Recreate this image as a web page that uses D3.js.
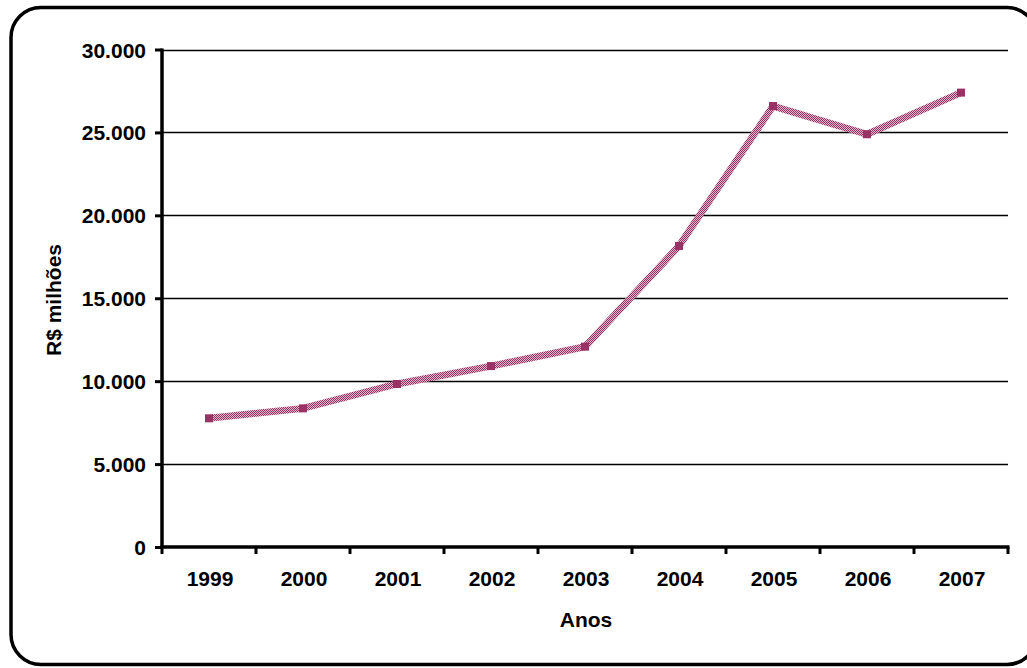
<!DOCTYPE html>
<html>
<head>
<meta charset="utf-8">
<script src="https://cdn.jsdelivr.net/npm/d3@7"></script>
<style>
  html, body { margin: 0; padding: 0; background: #fff; }
  svg { display: block; font-family: "Liberation Sans", Arial, Helvetica, sans-serif; }
</style>
</head>
<body>
<svg id="chart" width="1027" height="668"></svg>
<script>
// Annual values, R$ millions
const anos = ["1999", "2000", "2001", "2002", "2003", "2004", "2005", "2006", "2007"];
const valores = [7760, 8360, 9830, 10910, 12080, 18150, 26590, 24890, 27400];
const yTicks = [0, 5000, 10000, 15000, 20000, 25000, 30000];

const svg = d3.select("#chart");
const plot = { left: 162, right: 1008, top: 49.5, bottom: 547 };
const FS = 21;

// Rounded outer frame (right edge runs past the page)
svg.append("rect")
  .attr("x", 11).attr("y", 7.5)
  .attr("width", 1026).attr("height", 657)
  .attr("rx", 30).attr("ry", 30)
  .attr("fill", "#fff")
  .attr("stroke", "#000").attr("stroke-width", 3.5);

const x = d3.scaleBand().domain(anos).range([plot.left, plot.right]).padding(0);
const y = d3.scaleLinear().domain([0, 30000]).range([plot.bottom, plot.top]);

const fmt = v => v === 0 ? "0" : d3.format(",")(v).replace(/,/g, ".");

// Horizontal gridlines
svg.append("g")
  .selectAll("line")
  .data(yTicks.filter(t => t > 0))
  .join("line")
  .attr("x1", plot.left).attr("x2", plot.right)
  .attr("y1", d => Math.round(y(d)) + 0.5).attr("y2", d => Math.round(y(d)) + 0.5)
  .attr("stroke", "#000").attr("stroke-width", 1.3);

// Y axis
const yAxis = d3.axisLeft(y).tickValues(yTicks).tickFormat(fmt).tickSize(7).tickPadding(9);
const gy = svg.append("g").attr("transform", `translate(${plot.left},0)`).call(yAxis);
gy.select(".domain").remove();
gy.selectAll(".tick line").attr("stroke", "#000").attr("stroke-width", 3);
gy.selectAll(".tick text")
  .attr("font-size", FS).attr("font-weight", "bold").attr("fill", "#000")
  .attr("dy", "0.36em");
svg.append("line")
  .attr("x1", plot.left).attr("x2", plot.left)
  .attr("y1", plot.top - 1).attr("y2", plot.bottom + 1)
  .attr("stroke", "#000").attr("stroke-width", 3.5);

// X axis with ticks on category boundaries
const boundaries = anos.map(a => x(a)).concat([plot.right]);
svg.append("g")
  .selectAll("line")
  .data(boundaries)
  .join("line")
  .attr("x1", d => d).attr("x2", d => d)
  .attr("y1", plot.bottom).attr("y2", plot.bottom + 7)
  .attr("stroke", "#000").attr("stroke-width", 3);
svg.append("line")
  .attr("x1", plot.left - 1.5).attr("x2", plot.right + 1.5)
  .attr("y1", plot.bottom).attr("y2", plot.bottom)
  .attr("stroke", "#000").attr("stroke-width", 3.5);
svg.append("g")
  .selectAll("text")
  .data(anos)
  .join("text")
  .attr("x", d => x(d) + x.bandwidth() / 2 + 1)
  .attr("y", 586)
  .attr("text-anchor", "middle")
  .attr("font-size", FS).attr("font-weight", "bold")
  .text(d => d);

// Axis titles
svg.append("text")
  .attr("x", 586).attr("y", 627)
  .attr("text-anchor", "middle")
  .attr("font-size", FS).attr("font-weight", "bold")
  .text("Anos");
svg.append("text")
  .attr("transform", "translate(61,300) rotate(-90)")
  .attr("text-anchor", "middle")
  .attr("font-size", FS).attr("font-weight", "bold")
  .text("R$ milhões");

// Dithered line fill
const defs = svg.append("defs");
const pat = defs.append("pattern")
  .attr("id", "dither")
  .attr("patternUnits", "userSpaceOnUse")
  .attr("width", 2).attr("height", 2);
pat.append("rect").attr("width", 2).attr("height", 2).attr("fill", "#dfb3c8");
pat.append("rect").attr("width", 1).attr("height", 1).attr("fill", "#993366");
pat.append("rect").attr("x", 1).attr("y", 1).attr("width", 1).attr("height", 1).attr("fill", "#993366");

const pts = anos.map((a, i) => [x(a) + x.bandwidth() / 2, y(valores[i])]);
svg.append("path")
  .datum(pts)
  .attr("d", d3.line())
  .attr("fill", "none")
  .attr("stroke", "url(#dither)")
  .attr("stroke-width", 7)
  .attr("stroke-linejoin", "miter");

// Square markers
svg.append("g")
  .selectAll("rect")
  .data(pts)
  .join("rect")
  .attr("x", d => d[0] - 4).attr("y", d => d[1] - 4)
  .attr("width", 8).attr("height", 8)
  .attr("fill", "#993366");
</script>
</body>
</html>
